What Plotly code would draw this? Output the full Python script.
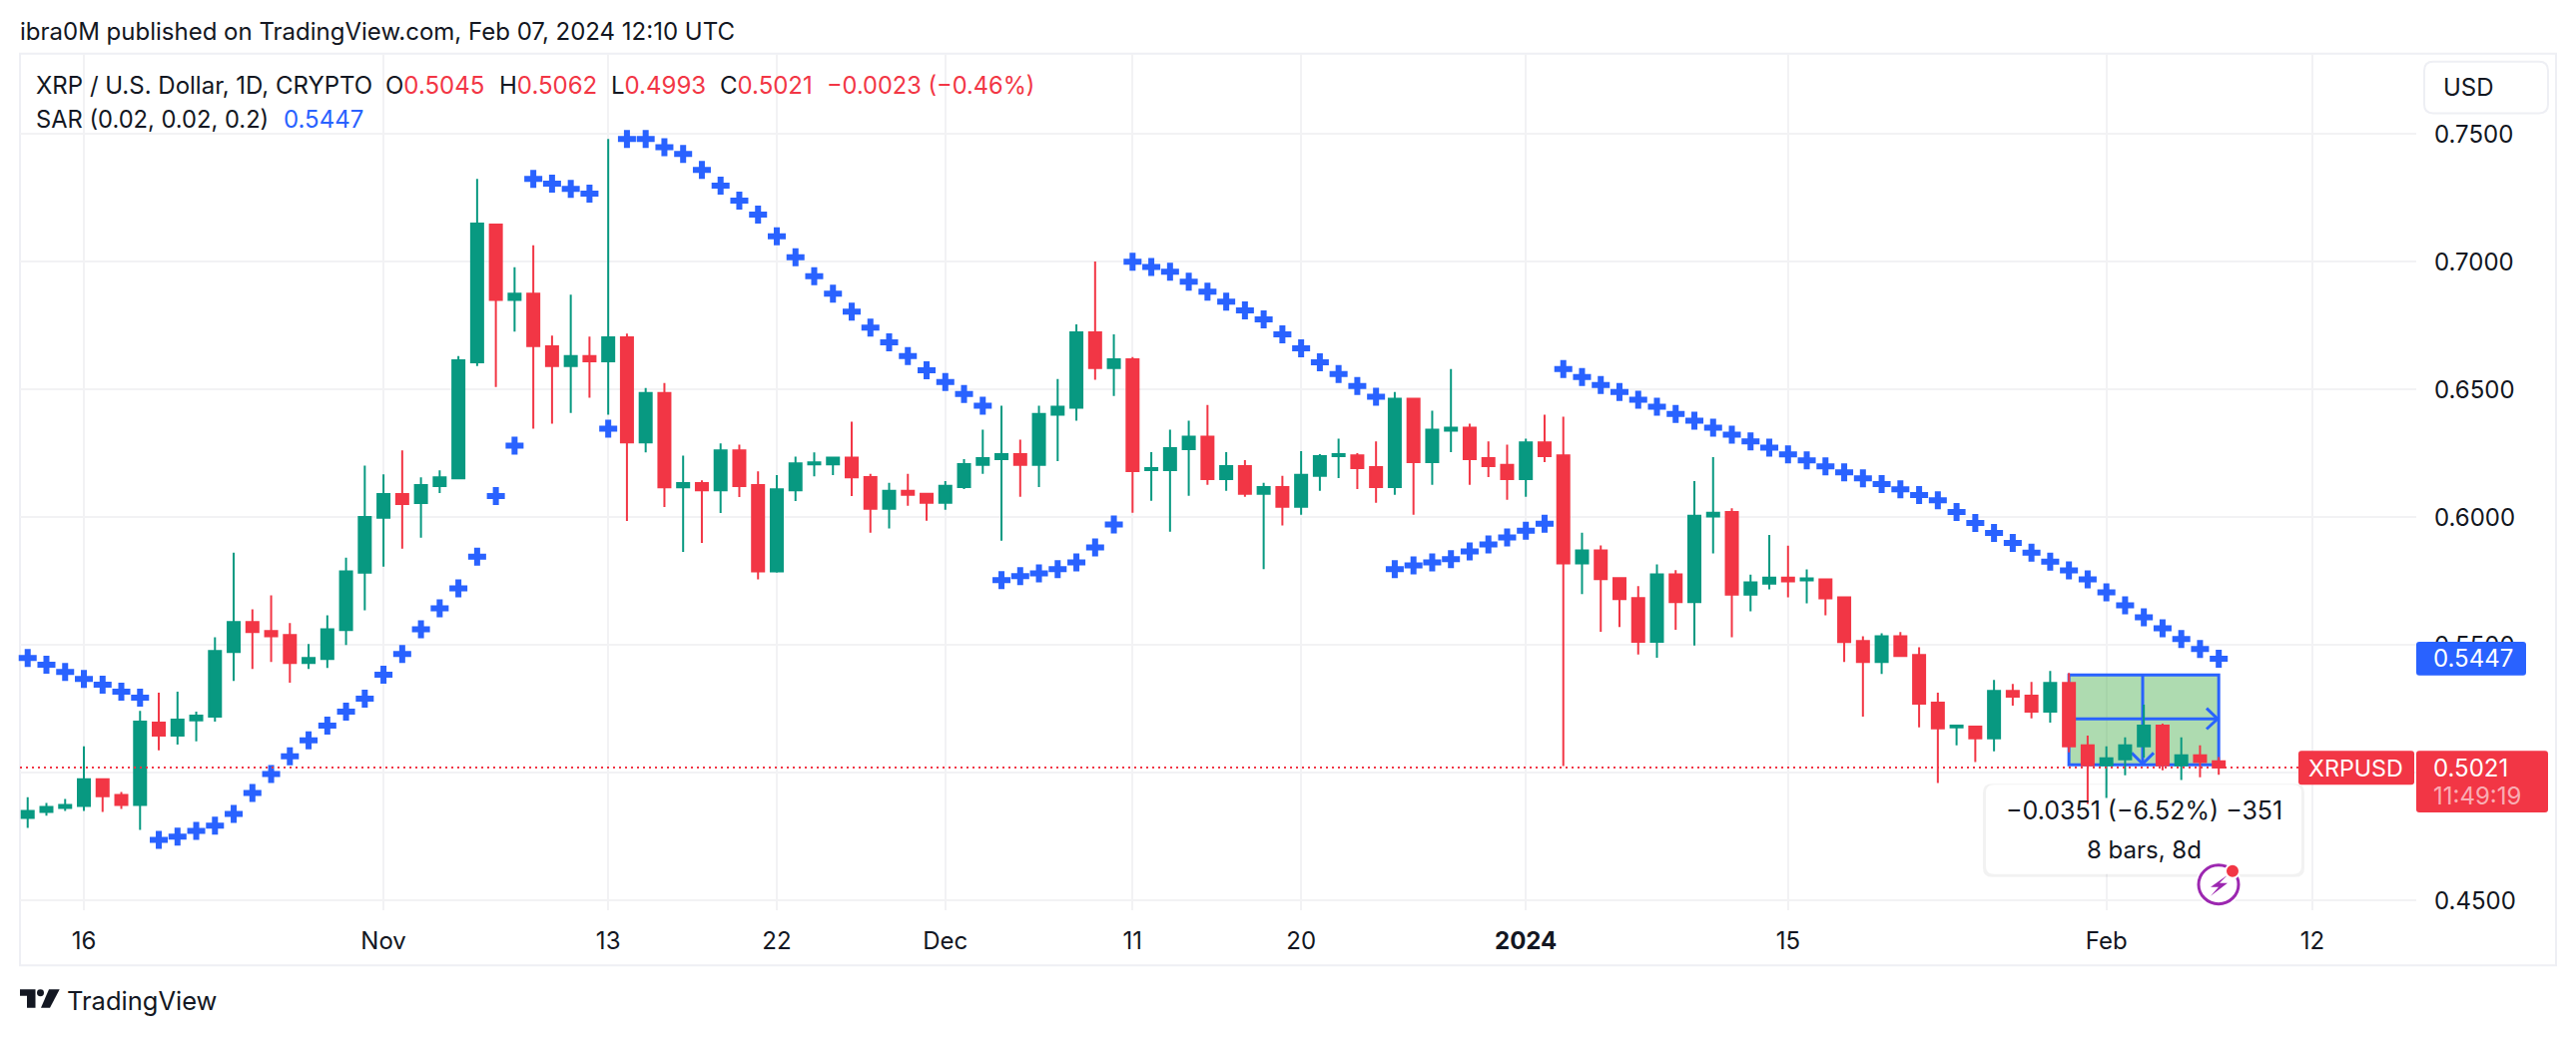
import plotly.graph_objects as go
from datetime import date, timedelta, datetime

W, H = 2580, 1042
PL, PR, PT, PB = 20, 2420, 54, 916

body_hi = [.4851,.4867,.4874,.4975,.4975,.4913,.5201,.5197,.5208,.5224,.5477,.5590,.5590,.5555,.5539,.5450,.5562,.5788,.6001,.6091,.6091,.6126,.6157,.6615,.7150,.7146,.6875,.6875,.6669,.6631,.6631,.6704,.6704,.6487,.6487,.6134,.6134,.6262,.6262,.6126,.6110,.6211,.6215,.6234,.6234,
           .6158,.6104,.6104,.6092,.6123,.6208,.6232,.6247,.6247,.6405,.6433,.6724,.6724,.6619,.6619,.6193,.6271,.6316,.6316,.6201,.6201,.6119,.6119,.6166,.6240,.6247,.6243,.6197,.6464,.6464,.6343,.6351,.6351,.6232,.6205,.6293,.6293,.6243,.5870,.5870,.5762,.5684,.5777,.5777,.6006,.6018,
           .6021,.5745,.5764,.5764,.5761,.5757,.5687,.5516,.5535,.5535,.5461,.5275,.5185,.5181,.5321,.5321,.5302,.5352,.5352,.5108,.5057,.5108,.5185,.5185,.5069,.5069,.5045]
body_lo = [.4824,.4847,.4863,.4870,.4909,.4874,.4874,.5146,.5146,.5205,.5220,.5473,.5551,.5535,.5430,.5430,.5446,.5559,.5784,.5998,.6052,.6056,.6122,.6153,.6607,.6851,.6851,.6670,.6592,.6592,.6611,.6611,.6293,.6293,.6118,.6118,.6106,.6106,.6122,.5788,.5788,.6106,.6207,.6207,.6157,
           .6034,.6034,.6088,.6057,.6057,.6119,.6205,.6228,.6205,.6205,.6402,.6429,.6584,.6584,.6181,.6185,.6185,.6267,.6150,.6150,.6092,.6092,.6041,.6041,.6162,.6240,.6193,.6119,.6119,.6216,.6216,.6339,.6228,.6201,.6150,.6150,.6240,.5820,.5820,.5758,.5680,.5513,.5513,.5668,.5668,.6003,
           .5698,.5698,.5741,.5749,.5753,.5683,.5512,.5434,.5434,.5457,.5271,.5174,.5178,.5135,.5135,.5298,.5240,.5240,.5104,.5030,.5030,.5053,.5104,.5030,.5030,.5042,.5021]
highs = [.4905,.4882,.4898,.5104,.4979,.4925,.5243,.5314,.5318,.5240,.5531,.5862,.5640,.5695,.5586,.5504,.5617,.5842,.6203,.6168,.6262,.6157,.6184,.6631,.7325,.7150,.6979,.7065,.6711,.6871,.6707,.7481,.6719,.6506,.6526,.6242,.6145,.6289,.6285,.6180,.6165,.6238,.6254,.6238,.6374,
         .6170,.6135,.6170,.6096,.6142,.6228,.6343,.6437,.6304,.6437,.6541,.6755,.7001,.6716,.6627,.6255,.6343,.6378,.6440,.6255,.6224,.6135,.6162,.6259,.6247,.6308,.6251,.6297,.6491,.6468,.6417,.6580,.6367,.6297,.6285,.6308,.6402,.6394,.5940,.5890,.5762,.5731,.5816,.5793,.6142,.6236,
         .6036,.5776,.5931,.5889,.5796,.5761,.5687,.5535,.5546,.5551,.5492,.5314,.5189,.5181,.5364,.5348,.5356,.5399,.5391,.5146,.5104,.5139,.5267,.5193,.5139,.5108,.5062]
lows = [.4785,.4832,.4851,.4851,.4847,.4859,.4777,.5088,.5111,.5123,.5201,.5360,.5407,.5434,.5353,.5407,.5411,.5500,.5636,.5807,.5877,.5920,.6095,.6149,.6592,.6510,.6727,.6347,.6367,.6409,.6468,.6402,.5986,.6254,.6040,.5865,.5900,.6017,.6079,.5757,.5784,.6064,.6161,.6165,.6083,
        .5940,.5956,.6045,.5987,.6030,.6111,.6170,.5909,.6080,.6119,.6220,.6378,.6538,.6475,.6018,.6065,.5944,.6084,.6127,.6104,.6080,.5797,.5968,.6010,.6104,.6154,.6111,.6057,.6088,.6010,.6127,.6255,.6127,.6158,.6069,.6080,.6216,.5027,.5700,.5552,.5571,.5463,.5451,.5560,.5498,.5859,
        .5531,.5632,.5718,.5687,.5663,.5617,.5434,.5220,.5387,.5457,.5178,.4960,.5108,.5042,.5084,.5263,.5213,.5197,.5080,.4878,.4902,.4991,.5060,.5010,.4972,.4983,.4993]
is_up = [1,1,1,1,0,0,1,0,1,1,1,1,0,0,0,1,1,1,1,1,0,1,1,1,1,0,1,0,0,1,0,1,0,1,0,1,0,1,0,0,1,1,1,1,0,
         0,1,0,0,1,1,1,1,0,1,1,1,0,1,0,1,1,1,0,1,0,1,0,1,1,1,0,0,1,0,1,1,0,0,0,1,0,0,1,0,0,0,1,0,1,1,
         0,1,1,0,1,0,0,0,1,0,0,0,1,0,1,0,0,1,0,0,1,1,1,0,1,0,0]
sar = [.5450,.5423,.5395,.5368,.5345,.5318,.5294,.4738,.4750,.4773,.4793,.4839,.4921,.4995,.5065,.5127,.5185,.5240,.5290,.5384,.5465,.5562,.5644,.5722,.5846,.6083,.6281,.7325,.7306,.7286,.7267,.6347,.7481,.7481,.7449,.7422,.7360,.7298,.7240,.7185,.7100,.7018,.6944,.6875,.6805,
       .6743,.6685,.6631,.6576,.6530,.6483,.6437,.5754,.5770,.5781,.5797,.5824,.5882,.5972,.7000,.6980,.6961,.6922,.6883,.6844,.6810,.6775,.6716,.6662,.6607,.6561,.6514,.6472,.5797,.5812,.5824,.5836,.5867,.5894,.5921,.5948,.5975,.6580,.6549,.6518,.6491,.6460,.6433,.6405,.6378,.6351,
       .6324,.6297,.6273,.6246,.6223,.6200,.6176,.6153,.6130,.6110,.6087,.6067,.6021,.5978,.5939,.5900,.5862,.5827,.5792,.5757,.5706,.5656,.5609,.5566,.5524,.5485,.5447]
last_price = 0.5021

price_ticks = [0.75, 0.70, 0.65, 0.60, 0.55, 0.50, 0.45]
price_labels = ["0.7500", "0.7000", "0.6500", "0.6000", "0.5500", "", "0.4500"]
time_ticks = ["2023-10-16", "2023-11-01", "2023-11-13", "2023-11-22", "2023-12-01", "2023-12-11", "2023-12-20",
              "2024-01-01", "2024-01-15", "2024-02-01", "2024-02-12"]
time_labels = ["16", "Nov", "13", "22", "Dec", "11", "20", "<b>2024</b>", "15", "Feb", "12"]

n = len(sar)
assert len(body_hi) == n and len(body_lo) == n and len(highs) == n and len(lows) == n and len(is_up) == n, \
    (n, len(body_hi), len(body_lo), len(highs), len(lows), len(is_up))
dates = [(date(2023, 10, 13) + timedelta(days=i)).isoformat() for i in range(n)]
opens = [(l if u else h) for h, l, u in zip(body_hi, body_lo, is_up)]
closes = [(h if u else l) for h, l, u in zip(body_hi, body_lo, is_up)]

GREEN, RED, BLUE = "#089981", "#F23645", "#2962FF"
INK = "#131722"
FONT = "Inter"
GRID = "#f2f2f4"
FRAME = "#eeeff4"
DAY_PX = 18.756
YMIN, YMAX = 0.44638, 0.78149

fig = go.Figure()
fig.add_trace(go.Candlestick(
    x=dates, open=opens, high=highs, low=lows, close=closes, whiskerwidth=0,
    increasing=dict(line=dict(color=GREEN, width=2), fillcolor=GREEN),
    decreasing=dict(line=dict(color=RED, width=2), fillcolor=RED),
    showlegend=False, hoverinfo="skip"))
fig.add_trace(go.Scatter(
    x=dates, y=sar, mode="markers", showlegend=False, hoverinfo="skip", cliponaxis=False,
    marker=dict(symbol="cross", size=15, color=BLUE, line=dict(width=0))))

def px(x): return x / W
def py(y): return 1 - y / H
def xd(x):
    return (datetime(2023, 10, 16) + timedelta(days=(x - 84) / DAY_PX)).strftime("%Y-%m-%d_%H:%M:%S")
def xs(x):
    return xd(x).replace("_", " ")
def yd(y):
    return YMAX - (y - PT) / (PB - PT) * (YMAX - YMIN)

def rrect(x0, y0, x1, y1, r):
    return (f"M{px(x0+r)},{py(y0)} L{px(x1-r)},{py(y0)} Q{px(x1)},{py(y0)} {px(x1)},{py(y0+r)} "
            f"L{px(x1)},{py(y1-r)} Q{px(x1)},{py(y1)} {px(x1-r)},{py(y1)} L{px(x0+r)},{py(y1)} "
            f"Q{px(x0)},{py(y1)} {px(x0)},{py(y1-r)} L{px(x0)},{py(y0+r)} Q{px(x0)},{py(y0)} {px(x0+r)},{py(y0)} Z")

def drect(x0, y0, x1, y1, r):
    return (f"M{xd(x0+r)},{yd(y0)} L{xd(x1-r)},{yd(y0)} Q{xd(x1)},{yd(y0)} {xd(x1)},{yd(y0+r)} "
            f"L{xd(x1)},{yd(y1-r)} Q{xd(x1)},{yd(y1)} {xd(x1-r)},{yd(y1)} L{xd(x0+r)},{yd(y1)} "
            f"Q{xd(x0)},{yd(y1)} {xd(x0)},{yd(y1-r)} L{xd(x0)},{yd(y0+r)} Q{xd(x0)},{yd(y0)} {xd(x0+r)},{yd(y0)} Z")

def dpoly(pts):
    return "M" + " L".join(f"{xd(a)},{yd(b)}" for a, b in pts)

shapes = []
shapes.append(dict(type="rect", xref="paper", yref="paper", x0=px(20), x1=px(2560), y0=py(972), y1=py(54),
                   line=dict(color=FRAME, width=2), fillcolor="rgba(0,0,0,0)", layer="below"))
sub = dict(xref="x", yref="y", layer="between")
M_START, M_END = "2024-01-30", "2024-02-07"
M_TOP, M_BOT = 0.5383, 0.5032
shapes.append(dict(type="rect", x0=M_START, x1=M_END, y0=M_BOT, y1=M_TOP,
                   fillcolor="rgba(76,175,80,0.45)", line=dict(color=BLUE, width=3), **sub))
mline = dict(color=BLUE, width=3)
shapes.append(dict(type="path", path=dpoly([(2072, 723.7), (2221, 723.7)]), line=mline, **sub))
shapes.append(dict(type="path", path=dpoly([(2146, 680), (2146, 769)]), line=mline, **sub))
shapes.append(dict(type="path", path=dpoly([(2210, 713), (2221, 723.7), (2210, 734)]), line=mline, **sub))
shapes.append(dict(type="path", path=dpoly([(2135, 758), (2146, 769), (2157, 758)]), line=mline, **sub))
shapes.append(dict(type="path", path=drect(1986, 789, 2308, 883, 9), fillcolor="rgba(0,0,0,0.05)",
                   line=dict(width=0), **sub))
shapes.append(dict(type="path", path=drect(1989, 790, 2305, 880, 8), fillcolor="#ffffff",
                   line=dict(width=0), **sub))
shapes.append(dict(type="line", x0=xs(20), x1=xs(2302), y0=last_price, y1=last_price,
                   line=dict(color=RED, width=2, dash="2px,4px"), xref="x", yref="y", layer="above"))
above = dict(xref="paper", yref="paper", layer="above")
shapes.append(dict(type="path", path=rrect(2428, 62, 2552, 114, 9), fillcolor="#ffffff",
                   line=dict(color=FRAME, width=2), **above))
shapes.append(dict(type="path", path=rrect(2420, 646, 2530, 680, 3), fillcolor=BLUE, line=dict(width=0), **above))
shapes.append(dict(type="path", path=rrect(2302, 756, 2418, 790, 3), fillcolor=RED, line=dict(width=0), **above))
shapes.append(dict(type="path", path=rrect(2420, 756, 2552, 818, 3), fillcolor=RED, line=dict(width=0), **above))
shapes.append(dict(type="circle", xref="paper", yref="paper", layer="above", x0=px(2199), x1=px(2245),
                   y0=py(914), y1=py(867), fillcolor="#ffffff", line=dict(width=0)))
shapes.append(dict(type="circle", xref="paper", yref="paper", layer="above", x0=px(2202), x1=px(2242),
                   y0=py(910), y1=py(871), fillcolor="#ffffff", line=dict(color="#9C27B0", width=3)))
bolt = [(2231, 881), (2214, 893), (2222, 893), (2214, 902), (2231, 889), (2223, 889)]
shapes.append(dict(type="path", path="M" + " L".join(f"{px(a)},{py(b)}" for a, b in bolt) + " Z",
                   fillcolor="#9C27B0", line=dict(width=0), **above))
shapes.append(dict(type="circle", xref="paper", yref="paper", layer="above", x0=px(2229), x1=px(2243),
                   y0=py(884), y1=py(870), fillcolor=RED, line=dict(color="#ffffff", width=2)))
logo = [(20, 996), (35.5, 996), (35.5, 1014.5), (27, 1014.5), (27, 1002.5), (20, 1002.5)]
shapes.append(dict(type="path", path="M" + " L".join(f"{px(a)},{py(b)}" for a, b in logo) + " Z",
                   fillcolor=INK, line=dict(width=0), **above))
slash = [(49, 996), (59.7, 996), (50, 1014.5), (41, 1014.5)]
shapes.append(dict(type="path", path="M" + " L".join(f"{px(a)},{py(b)}" for a, b in slash) + " Z",
                   fillcolor=INK, line=dict(width=0), **above))
shapes.append(dict(type="circle", xref="paper", yref="paper", layer="above", x0=px(37), x1=px(44),
                   y0=py(1003), y1=py(996), fillcolor=INK, line=dict(width=0)))

def note(x, y, text, size=24, color=INK, anchor="left"):
    return dict(xref="paper", yref="paper", x=px(x), y=py(y), text=text, showarrow=False, xanchor=anchor,
                yanchor="middle", align=anchor, font=dict(family=FONT, size=size, color=color),
                borderpad=0, borderwidth=0)

annos = [
    note(20, 32, "ibra0M published on TradingView.com, Feb 07, 2024 12:10 UTC"),
    note(36, 86, "XRP / U.S. Dollar, 1D, CRYPTO"),
    note(386, 86, f'O<span style="color:{RED}">0.5045</span>'),
    note(500, 86, f'H<span style="color:{RED}">0.5062</span>'),
    note(612, 86, f'L<span style="color:{RED}">0.4993</span>'),
    note(721, 86, f'C<span style="color:{RED}">0.5021</span>'),
    note(828, 86, "−0.0023 (−0.46%)", size=23.6, color=RED),
    note(36, 120, "SAR (0.02, 0.02, 0.2)", size=23.7),
    note(284, 120, "0.5447", color=BLUE),
    note(2447, 88, "USD"),
    note(2437, 663, "0.5447", color="#ffffff"),
    note(2312, 773, "XRPUSD", size=23.3, color="#ffffff"),
    note(2437, 773, "0.5021", color="#ffffff"),
    note(2437, 801, "11:49:19", color="rgba(255,255,255,0.6)"),
    note(2147, 816, "−0.0351 (−6.52%) −351", size=25, anchor="center"),
    note(2147, 856, "8 bars, 8d", anchor="center"),
    note(67, 1007, "TradingView", size=25.5),
]

fig.update_layout(
    width=W, height=H, autosize=False, margin=dict(l=0, r=0, t=0, b=0, pad=0), boxgap=0.36, boxgroupgap=0,
    paper_bgcolor="#ffffff", plot_bgcolor="#ffffff", showlegend=False,
    font=dict(family=FONT, size=24, color=INK), shapes=shapes, annotations=annos, hovermode=False,
    xaxis=dict(domain=[px(PL), px(PR)], range=[xs(PL), xs(PR)], type="date",
               rangeslider=dict(visible=False), tickmode="array", tickvals=time_ticks, ticktext=time_labels,
               showgrid=True, gridcolor=GRID, gridwidth=2, zeroline=False, showline=False, ticks="",
               ticklabelstandoff=14, tickangle=0, tickfont=dict(family=FONT, size=24, color=INK)),
    yaxis=dict(domain=[py(PB), py(PT)], range=[YMIN, YMAX], side="right", anchor="x",
               tickmode="array", tickvals=price_ticks, ticktext=price_labels,
               showgrid=True, gridcolor=GRID, gridwidth=2, zeroline=False, showline=False, ticks="",
               ticklabelstandoff=17, tickfont=dict(family=FONT, size=24, color=INK)),
)
fig.write_html("out.html", config=dict(displayModeBar=False, staticPlot=True),
               post_script="document.body.style.margin='0';document.documentElement.style.overflow='hidden';")
